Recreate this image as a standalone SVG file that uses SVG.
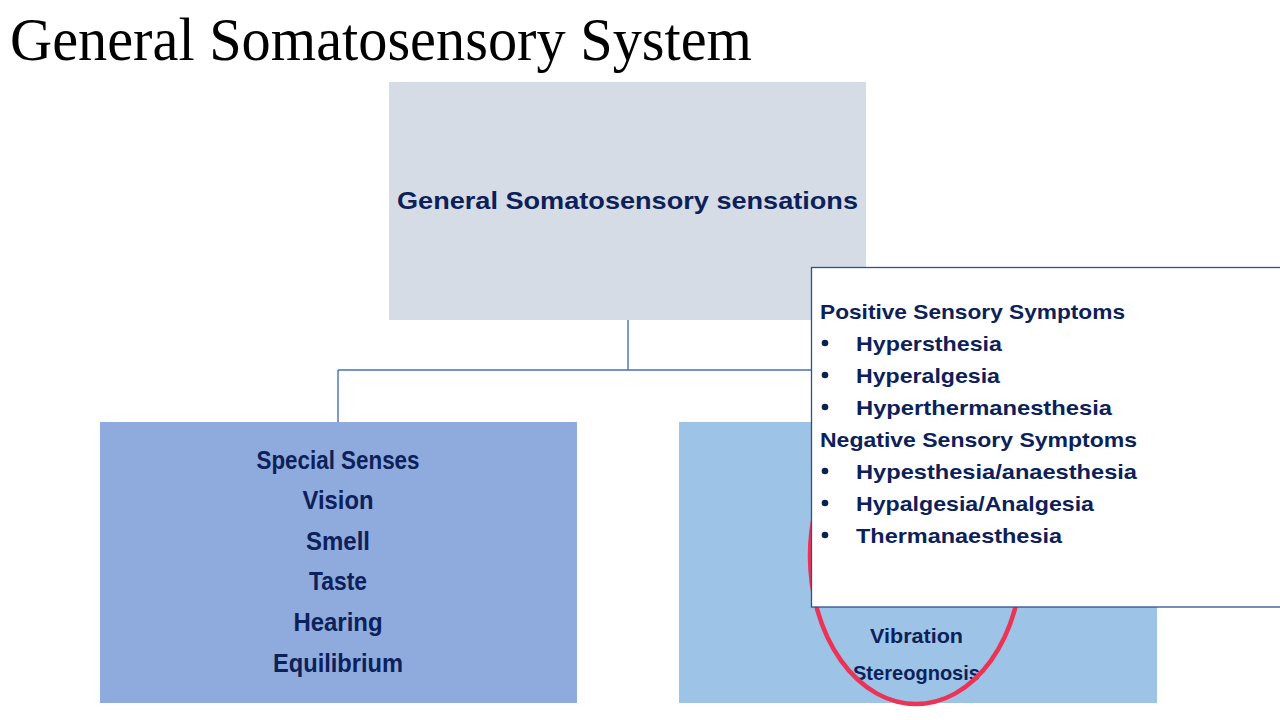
<svg xmlns="http://www.w3.org/2000/svg" width="1280" height="720" viewBox="0 0 1280 720">
<style>
.t{font-family:"Liberation Sans",Arial,sans-serif;font-weight:bold;fill:#0C2159;}
.c{text-anchor:middle;}
.n{font-size:24px;}
.s{font-size:25.5px;}
.p{font-size:21px;}
.conn{stroke:#4A6DB8;stroke-width:1.4;fill:none;}
</style>
<rect width="1280" height="720" fill="#FFFFFF"/>
<text x="10" y="60" font-family="'Liberation Serif','Times New Roman',serif" font-size="62" fill="#000000" textLength="742" lengthAdjust="spacingAndGlyphs">General Somatosensory System</text>

<g id="connectors">
<path class="conn" d="M628 320 V370"/>
<path class="conn" d="M338 370 H918" stroke="#8EA4CF"/>
<path class="conn" d="M338 370 V422"/>
<path class="conn" d="M918 370 V422"/>
</g>

<g id="node-top">
<rect x="389" y="82" width="477" height="238" fill="#D6DCE5"/>
<text class="t c n" x="627.5" y="209" textLength="461" lengthAdjust="spacingAndGlyphs">General Somatosensory sensations</text>
</g>

<g id="node-special">
<rect x="100" y="422" width="477" height="281" fill="#8FAADC"/>
<text class="t c s" x="338" y="469" textLength="163" lengthAdjust="spacingAndGlyphs">Special Senses</text>
<text class="t c s" x="338" y="509" textLength="71" lengthAdjust="spacingAndGlyphs">Vision</text>
<text class="t c s" x="338" y="550" textLength="64" lengthAdjust="spacingAndGlyphs">Smell</text>
<text class="t c s" x="338" y="590" textLength="58" lengthAdjust="spacingAndGlyphs">Taste</text>
<text class="t c s" x="338" y="631" textLength="89" lengthAdjust="spacingAndGlyphs">Hearing</text>
<text class="t c s" x="338" y="672" textLength="130" lengthAdjust="spacingAndGlyphs">Equilibrium</text>
</g>

<g id="node-general">
<rect x="679" y="422" width="478" height="281" fill="#9DC3E6"/>
<text class="t c p" x="916.5" y="643" textLength="93" lengthAdjust="spacingAndGlyphs">Vibration</text>
<text class="t c p" x="916.5" y="680" textLength="127" lengthAdjust="spacingAndGlyphs">Stereognosis</text>
</g>

<g id="highlight">
<ellipse cx="916" cy="556" rx="106" ry="148" fill="none" stroke="#EC3356" stroke-width="4.5"/>
</g>

<g id="node-symptoms">
<rect x="811.5" y="267.5" width="480" height="339.5" fill="#FFFFFF" stroke="#2F4F8F" stroke-width="1.3"/>
<text class="t p" x="820" y="319" textLength="305" lengthAdjust="spacingAndGlyphs">Positive Sensory Symptoms</text>
<circle cx="825" cy="343" r="3.3" fill="#0C2159"/>
<text class="t p" x="856" y="351" textLength="146" lengthAdjust="spacingAndGlyphs">Hypersthesia</text>
<circle cx="825" cy="375" r="3.3" fill="#0C2159"/>
<text class="t p" x="856" y="383" textLength="144" lengthAdjust="spacingAndGlyphs">Hyperalgesia</text>
<circle cx="825" cy="407" r="3.3" fill="#0C2159"/>
<text class="t p" x="856" y="415" textLength="256" lengthAdjust="spacingAndGlyphs">Hyperthermanesthesia</text>
<text class="t p" x="820" y="447" textLength="317" lengthAdjust="spacingAndGlyphs">Negative Sensory Symptoms</text>
<circle cx="825" cy="471" r="3.3" fill="#0C2159"/>
<text class="t p" x="856" y="479" textLength="281" lengthAdjust="spacingAndGlyphs">Hypesthesia/anaesthesia</text>
<circle cx="825" cy="503" r="3.3" fill="#0C2159"/>
<text class="t p" x="856" y="511" textLength="238" lengthAdjust="spacingAndGlyphs">Hypalgesia/Analgesia</text>
<circle cx="825" cy="535" r="3.3" fill="#0C2159"/>
<text class="t p" x="856" y="543" textLength="206" lengthAdjust="spacingAndGlyphs">Thermanaesthesia</text>
</g>
</svg>
